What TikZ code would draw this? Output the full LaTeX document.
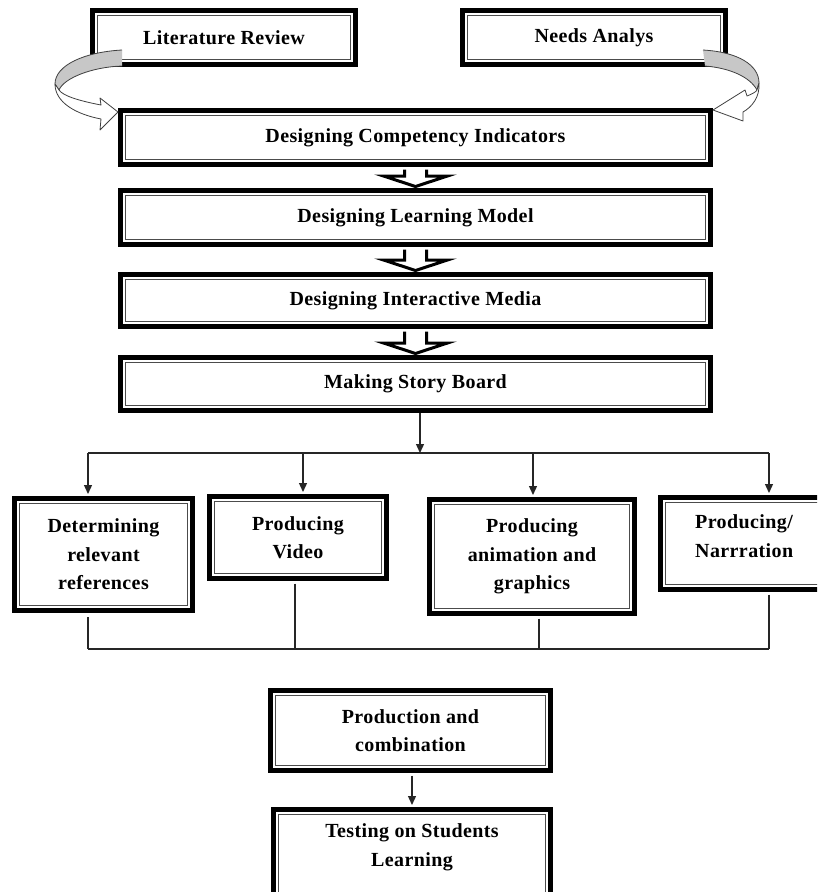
\documentclass[tikz,border=0pt]{standalone}
\usepackage{fontspec}
\setmainfont{Liberation Serif}[LetterSpace=2]
\usetikzlibrary{arrows.meta,calc}
\newcommand\myblockarrow[2]{%
  \draw[blk] ($(#1.south)+(-11,2.5)$) -- ($(#2.north)+(-11,-12)$) -- ($(#2.north)+(-32,-12)$)
    -- ($(#2.north)+(0,-1.5)$) -- ($(#2.north)+(32,-12)$) -- ($(#2.north)+(11,-12)$)
    -- ($(#1.south)+(11,2.5)$);}
\begin{document}
\begin{tikzpicture}[x=1pt,y=-1pt,
  txt/.style={font=\bfseries\fontsize{20}{28.5}\selectfont},
  box/.style={draw=black, line width=5pt, fill=white, inner sep=0pt, align=center, txt,
    path picture={\draw[line width=1.3pt, draw=black!70]
      ([shift={(4.8pt,-4.8pt)}]path picture bounding box.north west) rectangle
      ([shift={(-4.8pt,4.8pt)}]path picture bounding box.south east);}},
  lbl/.style={inner sep=0pt, align=left, txt},
  conn/.style={draw=black!85, line width=1.3pt},
  tip/.style={-{Triangle[length=9pt,width=8pt]}},
  blk/.style={draw=black, line width=3pt, fill=white, line join=miter},
  ribbon/.style={draw=black!75, line width=0.8pt, line join=round},
]
\useasboundingbox (0,0) rectangle (817,892);
\clip (0,0) rectangle (817,892);

% boxes
\node[box, minimum width=263pt, minimum height=54pt] (lit) at (224,37.5) {Literature Review};
\node[box, minimum width=263pt, minimum height=54pt] (needs) at (594,37.5) {Needs Analys};
\node[box, minimum width=590pt, minimum height=54pt] (comp) at (415.5,137.5) {Designing Competency Indicators};
\node[box, minimum width=590pt, minimum height=54pt] (model) at (415.5,217.5) {Designing Learning Model};
\node[box, minimum width=590pt, minimum height=52pt] (media) at (415.5,300.5) {Designing Interactive Media};
\node[box, minimum width=590pt, minimum height=53pt] (story) at (415.5,384) {Making Story Board};

\node[box, minimum width=178pt, minimum height=112pt] (det) at (103.5,554.5) {Determining\\relevant\\references};
\node[box, minimum width=177pt, minimum height=82pt] (video) at (298,537.5) {Producing\\Video};
\node[box, minimum width=205pt, minimum height=114pt] (anim) at (532,556.5) {Producing\\animation and\\graphics};
\node[box, minimum width=177pt, minimum height=92pt] (narr) at (749,543.5) {};
\node[lbl, anchor=west] (narrT) at (695,536) {Producing/\\Narrration};

\node[box, minimum width=280pt, minimum height=80pt] (pc) at (410.5,730.5) {Production and\\combination};
\node[box, minimum width=277pt, minimum height=98pt] (test) at (412,858.5) {};
\node[lbl, align=center] (testT) at (412,847.5) {Testing on Students\\Learning};

% block arrows
\myblockarrow{comp}{model}
\myblockarrow{model}{media}
\myblockarrow{media}{story}

% distribution
\coordinate (top) at (420,453);
\coordinate (barL) at (88,453);
\coordinate (barR) at (769,453);
\coordinate (d2) at (303,453);
\coordinate (d3) at (533,453);
\draw[conn, tip] (story.south -| top) -- (top);
\draw[conn] (barL) -- (barR);
\draw[conn, tip, shorten >=2pt] (barL) -- (det.north -| barL);
\draw[conn, tip, shorten >=2pt] (d2) -- (video.north -| d2);
\draw[conn, tip, shorten >=2pt] (d3) -- (anim.north -| d3);
\draw[conn, tip, shorten >=2pt] (barR) -- (narr.north -| barR);

% collection
\coordinate (botL) at (88,649);
\coordinate (botR) at (769,649);
\coordinate (c2) at (295,649);
\coordinate (c3) at (539,649);
\draw[conn] (botL) -- (botR);
\draw[conn, shorten <=4pt] (det.south -| botL) -- (botL);
\draw[conn, shorten <=2.5pt] (video.south -| c2) -- (c2);
\draw[conn, shorten <=2.5pt] (anim.south -| c3) -- (c3);
\draw[conn, shorten <=2.5pt] (narr.south -| botR) -- (botR);

\draw[conn, tip, shorten <=2.5pt, shorten >=2pt] (pc.south -| test.north) -- (test.north);

% curved arrows (left)
\fill[black!22] (122,50) .. controls (85,52) and (55,65) .. (55,84) -- (59,90)
  .. controls (64,78) and (92,67) .. (122,66) -- cycle;
\draw[ribbon] (122,50) .. controls (85,52) and (55,65) .. (55,84) -- (59,90)
  .. controls (64,78) and (92,67) .. (122,66);
\draw[ribbon, fill=white] (55,84) .. controls (55,102) and (75,114) .. (101,119) -- (100,130)
  -- (118,112) -- (100,98) -- (101,105) .. controls (80,101) and (63,96) .. (59,90) -- cycle;
% curved arrows (right)
\fill[black!22] (703,50) .. controls (738,52) and (759,65) .. (759,83) -- (757,90)
  .. controls (750,77) and (730,68) .. (705,66) -- cycle;
\draw[ribbon] (703,50) .. controls (738,52) and (759,65) .. (759,83) -- (757,90)
  .. controls (750,77) and (730,68) .. (705,66);
\draw[ribbon, fill=white] (759,83) .. controls (760,97) and (752,107) .. (743,112) -- (743,121)
  -- (713,110) -- (745,90) -- (747,96) .. controls (752,94) and (756,92) .. (757,90) -- cycle;
\end{tikzpicture}
\end{document}
